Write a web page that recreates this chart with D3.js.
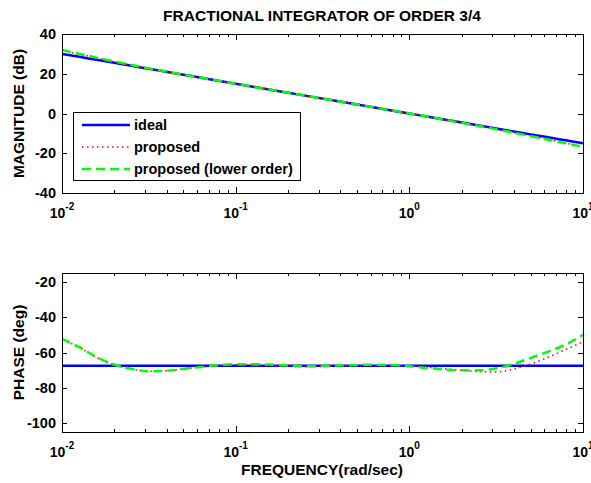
<!DOCTYPE html>
<html>
<head>
<meta charset="utf-8">
<script src="https://cdn.jsdelivr.net/npm/d3@7"></script>
<style>
  body { margin: 0; background: #fff; }
  svg text { font-family: "Liberation Sans", Arial, sans-serif; font-weight: bold; fill: #000; }
</style>
</head>
<body>
<div id="chart"></div>
<script>
// frequencies (rad/sec)
var freq = [0.01, 0.0126, 0.0158, 0.02, 0.0251, 0.0316, 0.0398, 0.0501, 0.0631, 0.0794,
  0.1, 0.158, 0.251, 0.398, 0.631, 1, 1.26, 1.58, 2, 2.51, 3.16, 3.98, 5.01, 6.31, 7.94, 10];

// magnitude (dB)
var magIdeal = [30, 28.5, 27, 25.5, 24, 22.5, 21, 19.5, 18, 16.5,
  15, 12, 9, 6, 3, 0, -1.5, -3, -4.5, -6, -7.5, -9, -10.5, -12, -13.5, -15];
var magProposed = [31.8, 29.9, 28.0, 26.1, 24.3, 22.6, 21.1, 19.5, 18, 16.5,
  15, 12, 9, 6, 3, 0, -1.5, -3.1, -4.7, -6.3, -7.9, -9.6, -11.3, -13.1, -14.9, -16.5];
var magLower = [32.0, 30.0, 28.1, 26.2, 24.4, 22.7, 21.1, 19.5, 18, 16.5,
  15, 12, 9, 6, 3, 0, -1.5, -3.1, -4.7, -6.3, -7.9, -9.6, -11.4, -13.2, -15.0, -16.7];

// phase (deg)
var phaseIdeal = [-67.5, -67.5, -67.5, -67.5, -67.5, -67.5, -67.5, -67.5, -67.5, -67.5,
  -67.5, -67.5, -67.5, -67.5, -67.5, -67.5, -67.5, -67.5, -67.5, -67.5, -67.5, -67.5, -67.5, -67.5, -67.5, -67.5];
var phaseProposed = [-52.5, -57.2, -62.7, -66.9, -69.4, -70.6, -70.3, -69.3, -68.3, -67.5,
  -67.0, -67.6, -68.0, -67.6, -67.5, -67.7, -68.4, -69.2, -70.0, -70.8, -71.0, -69.4, -66.5, -62.7, -58.3, -54.0];
var phaseLower = [-52.3, -57.0, -62.5, -66.8, -69.3, -70.6, -70.4, -69.3, -68.2, -67.2,
  -66.6, -66.8, -67.8, -67.3, -66.9, -67.8, -68.8, -69.6, -70.1, -70.1, -69.0, -66.6, -63.0, -59.5, -55.5, -50.0];

var magTicks = [-40, -20, 0, 20, 40];
var phaseTicks = [-100, -80, -60, -40, -20];
var decades = [0.01, 0.1, 1, 10];
var legendLabels = ['ideal', 'proposed', 'proposed (lower order)'];

var width = 591, height = 483;
var left = 62, right = 583;
var styles = [
  { color: '#0000ff', width: 2.5, dash: null },
  { color: '#ff0000', width: 1.5, dash: '1.5,3.5' },
  { color: '#00ff00', width: 2.5, dash: '9,5' }
];

var svg = d3.select('#chart').append('svg').attr('width', width).attr('height', height);

var x = d3.scaleLog().domain([0.01, 10]).range([left, right]);

// minor ticks: 2..9 inside each decade
var minor = [];
decades.slice(0, 3).forEach(function(d) {
  for (var k = 2; k <= 9; k++) minor.push(d * k);
});

drawPanel({
  top: 34, bottom: 193, domain: [-40, 40], ticks: magTicks,
  series: [magIdeal, magProposed, magLower], ylabel: 'MAGNITUDE (dB)', legend: true
});
drawPanel({
  top: 273, bottom: 432, domain: [-105, -15], ticks: phaseTicks,
  series: [phaseIdeal, phaseProposed, phaseLower], ylabel: 'PHASE (deg)', legend: false
});

svg.append('text').attr('x', 322).attr('y', 21).attr('text-anchor', 'middle')
  .style('font-size', '15.5px').text('FRACTIONAL INTEGRATOR OF ORDER 3/4');
svg.append('text').attr('x', 322).attr('y', 475).attr('text-anchor', 'middle')
  .style('font-size', '15.5px').text('FREQUENCY(rad/sec)');

function drawPanel(p) {
  var y = d3.scaleLinear().domain(p.domain).range([p.bottom, p.top]);
  var g = svg.append('g');

  g.append('rect').attr('x', left).attr('y', p.top)
    .attr('width', right - left).attr('height', p.bottom - p.top)
    .attr('fill', '#fff');

  var clipId = 'clip' + p.top;
  svg.append('clipPath').attr('id', clipId).append('rect')
    .attr('x', left).attr('y', p.top).attr('width', right - left).attr('height', p.bottom - p.top);

  var line = d3.line()
    .x(function(d, i) { return x(freq[i]); })
    .y(function(d) { return y(d); })
    .curve(d3.curveMonotoneX);

  p.series.forEach(function(s, i) {
    g.append('path').datum(s)
      .attr('clip-path', 'url(#' + clipId + ')')
      .attr('d', line)
      .attr('fill', 'none')
      .attr('stroke', styles[i].color)
      .attr('stroke-width', styles[i].width)
      .attr('stroke-dasharray', styles[i].dash);
  });

  // ticks (inward, all four sides)
  var tg = g.append('g').attr('stroke', '#000').attr('stroke-width', 1);
  decades.forEach(function(d) {
    var xx = Math.round(x(d)) + 0.5;
    tg.append('line').attr('x1', xx).attr('x2', xx).attr('y1', p.bottom).attr('y2', p.bottom - 6);
    tg.append('line').attr('x1', xx).attr('x2', xx).attr('y1', p.top).attr('y2', p.top + 6);
  });
  minor.forEach(function(d) {
    var xx = Math.round(x(d)) + 0.5;
    tg.append('line').attr('x1', xx).attr('x2', xx).attr('y1', p.bottom).attr('y2', p.bottom - 3);
    tg.append('line').attr('x1', xx).attr('x2', xx).attr('y1', p.top).attr('y2', p.top + 3);
  });
  p.ticks.forEach(function(t) {
    var yy = Math.round(y(t)) + 0.5;
    tg.append('line').attr('x1', left).attr('x2', left + 5).attr('y1', yy).attr('y2', yy);
    tg.append('line').attr('x1', right).attr('x2', right - 5).attr('y1', yy).attr('y2', yy);
  });

  g.append('rect').attr('x', left + 0.5).attr('y', p.top + 0.5)
    .attr('width', right - left).attr('height', p.bottom - p.top)
    .attr('fill', 'none').attr('stroke', '#000').attr('stroke-width', 1);

  // y tick labels
  g.selectAll('.ylab').data(p.ticks).enter().append('text')
    .attr('x', left - 6).attr('y', function(d) { return y(d) + 5; })
    .attr('text-anchor', 'end').style('font-size', '14.5px')
    .text(function(d) { return d; });

  // x tick labels: 10^n
  decades.forEach(function(d) {
    var t = g.append('text').attr('x', x(d)).attr('y', p.bottom + 25)
      .attr('text-anchor', 'middle').style('font-size', '14px');
    t.append('tspan').text('10');
    t.append('tspan').attr('dy', -8).style('font-size', '10px').text(Math.round(Math.log10(d)));
  });

  // y label
  svg.append('text')
    .attr('transform', 'translate(24,' + ((p.top + p.bottom) / 2) + ') rotate(-90)')
    .attr('text-anchor', 'middle').style('font-size', '15.5px').text(p.ylabel);

  if (p.legend) drawLegend(g);
}

function drawLegend(g) {
  var lg = g.append('g');
  lg.append('rect').attr('x', 73.5).attr('y', 112.5).attr('width', 227).attr('height', 68)
    .attr('fill', '#fff').attr('stroke', '#000').attr('stroke-width', 1);
  legendLabels.forEach(function(lab, i) {
    var yy = 125 + i * 22;
    lg.append('line').attr('x1', 82).attr('x2', 130).attr('y1', yy).attr('y2', yy)
      .attr('stroke', styles[i].color).attr('stroke-width', styles[i].width)
      .attr('stroke-dasharray', styles[i].dash);
    lg.append('text').attr('x', 134).attr('y', yy + 5).style('font-size', '14.5px').text(lab);
  });
}
</script>
</body>
</html>
